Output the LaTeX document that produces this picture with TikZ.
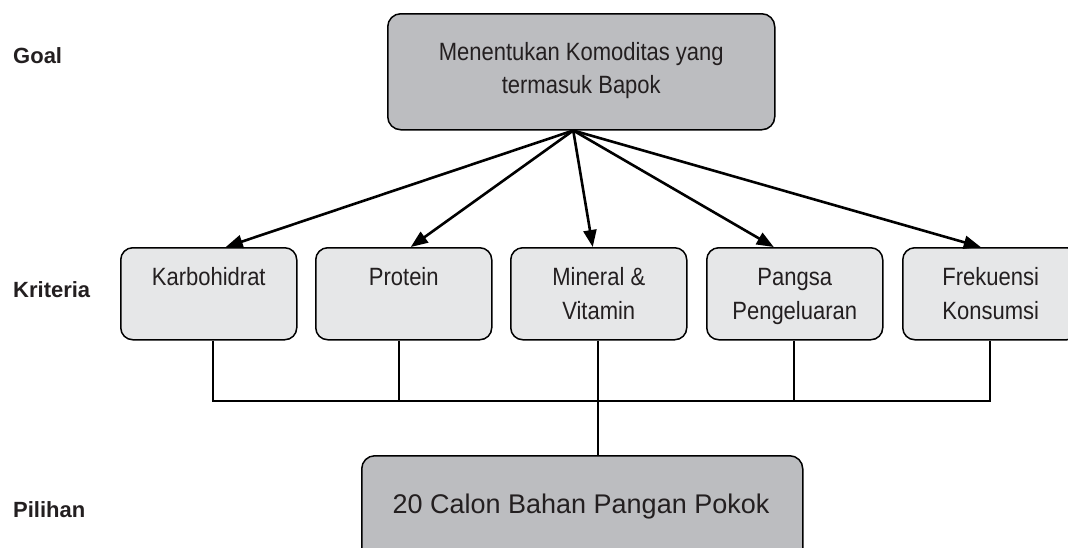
\documentclass[tikz,border=0pt]{standalone}
\usepackage{fontspec}
\setmainfont{Liberation Sans}
\newfontfamily\condfont[FakeStretch=0.88]{Liberation Sans}
\usetikzlibrary{arrows.meta}
\definecolor{boxdark}{HTML}{BCBDC0}
\definecolor{boxlight}{HTML}{E6E7E8}
\definecolor{ink}{HTML}{231F20}
\begin{document}
\begin{tikzpicture}[x=1pt,y=-1pt,
  critbox/.style={draw=black, line width=1.5pt, fill=boxlight, rounded corners=12pt,
    minimum width=176pt, minimum height=92pt, inner sep=0pt, anchor=north west},
  bigbox/.style={draw=black, line width=1.5pt, fill=boxdark, rounded corners=13pt,
    inner sep=0pt, anchor=north west},
  boxtext/.style={anchor=north, inner sep=0pt, align=center, text=ink,
    font=\condfont\fontsize{25}{33.5}\selectfont},
  levellabel/.style={anchor=base west, inner sep=0pt, text=ink,
    font=\bfseries\fontsize{22}{26}\selectfont},
  arrowline/.style={draw=black, line width=2.6pt, -{Triangle[length=17pt,width=13pt]}},
  busline/.style={draw=black, line width=1.7pt}
]
\useasboundingbox (0,0) rectangle (1068,547);
\clip (0,0) rectangle (1068,547);

% level labels
\node[levellabel] (goal) at (13,63) {Goal};
\node[levellabel] (kriteria) at (13,297) {Kriteria};
\node[levellabel] (pilihan) at (13,517) {Pilihan};

% goal box
\node[bigbox, minimum width=387pt, minimum height=116pt] (g) at (387,13) {};
\node[boxtext] (gt) at ([yshift=-23.5pt]g.north) {\strut Menentukan Komoditas yang\\termasuk Bapok};

% criteria boxes
\node[critbox] (k)  at (120,247) {};
\node[critbox] (p)  at (315,247) {};
\node[critbox] (m)  at (510,247) {};
\node[critbox] (pg) at (706,247) {};
\node[critbox] (f)  at (902,247) {};
\node[boxtext] (kt)  at ([yshift=-14.9pt]k.north)  {\strut Karbohidrat};
\node[boxtext] (pt)  at ([yshift=-14.9pt]p.north)  {\strut Protein};
\node[boxtext] (mt)  at ([yshift=-14.9pt]m.north)  {\strut Mineral \&\\Vitamin};
\node[boxtext] (pgt) at ([yshift=-14.9pt]pg.north) {\strut Pangsa\\Pengeluaran};
\node[boxtext] (ft)  at ([yshift=-14.9pt]f.north)  {\strut Frekuensi\\Konsumsi};

% alternative box
\node[bigbox, minimum width=441pt, minimum height=130pt] (b) at (361,455) {};
\node[anchor=base, inner sep=0pt, text=ink, font=\fontsize{27}{32}\selectfont] (bt) at (581,513) {20 Calon Bahan Pangan Pokok};

% arrows from goal
\coordinate (apex) at ([xshift=-8pt]g.south);
\draw[arrowline] (apex) -- ([xshift=17pt]k.north);
\draw[arrowline] (apex) -- ([xshift=7pt]p.north);
\draw[arrowline] (apex) -- ([xshift=-6pt]m.north);
\draw[arrowline] (apex) -- ([xshift=-21pt]pg.north);
\draw[arrowline] (apex) -- ([xshift=-10pt]f.north);

% bus to alternatives
\coordinate (bus) at (597,401);
\draw[busline] ([xshift=4pt]k.south) |- (bus);
\draw[busline] ([xshift=-5pt]p.south) -- ([xshift=-5pt]p.south |- bus);
\draw[busline] ([xshift=-1pt]m.south) -- ([xshift=-1pt]m.south |- b.north);
\draw[busline] ([xshift=-1pt]pg.south) -- ([xshift=-1pt]pg.south |- bus);
\draw[busline] ([xshift=-1pt]f.south) |- (bus);
\end{tikzpicture}
\end{document}
